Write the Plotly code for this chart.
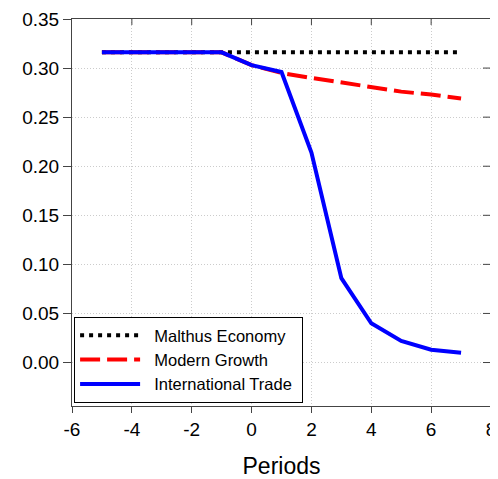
import plotly.graph_objects as go

periods = [-5, -4, -3, -2, -1, 0, 1, 2, 3, 4, 5, 6, 7]
malthus = [0.316] * 13
modern = [0.316, 0.316, 0.316, 0.316, 0.316, 0.303, 0.295, 0.290, 0.285, 0.280, 0.276, 0.273, 0.269]
trade = [0.316, 0.316, 0.316, 0.316, 0.316, 0.303, 0.296, 0.214, 0.086, 0.040, 0.022, 0.013, 0.010]

x_ticks = [-6, -4, -2, 0, 2, 4, 6, 8]
y_ticks = [0.00, 0.05, 0.10, 0.15, 0.20, 0.25, 0.30, 0.35]

FONT = "Liberation Sans, Arial, sans-serif"
NB = "\u00a0\u00a0"

fig = go.Figure()
fig.add_trace(go.Scatter(x=periods, y=malthus, mode="lines", name=NB + "Malthus Economy",
                         line=dict(color="black", width=4, dash="4px,5px")))
fig.add_trace(go.Scatter(x=periods, y=modern, mode="lines", name=NB + "Modern Growth",
                         line=dict(color="red", width=4, dash="20px,7px")))
fig.add_trace(go.Scatter(x=periods, y=trade, mode="lines", name=NB + "International Trade\u00a0",
                         line=dict(color="blue", width=4)))

xr = [-6, 8]
yr = [-0.0443, 0.35]
GRID = "#cccccc"
AX = "#444444"

W, H = 490, 471
M = dict(l=64, r=7, t=11, b=73)
plot_w = W - M["l"] - M["r"]
plot_h = H - M["t"] - M["b"]

# inward ticks on the top and right frame
shapes = []
for v in x_ticks[1:-1]:
    shapes.append(dict(type="line", xref="x", yref="paper", x0=v, x1=v,
                       y0=1, y1=1 - 6 / plot_h, line=dict(color=AX, width=1)))
for v in y_ticks[:-1]:
    shapes.append(dict(type="line", xref="paper", yref="y", y0=v, y1=v,
                       x0=1, x1=1 - 8 / plot_w, line=dict(color=AX, width=1)))

# the page body has an 8px margin, so the figure is offset by 8px
fig.update_layout(
    width=W, height=H,
    margin=M,
    paper_bgcolor="white", plot_bgcolor="white",
    font=dict(family=FONT, color="black"),
    showlegend=True,
    shapes=shapes,
    legend=dict(x=0.005, y=0.008, xanchor="left", yanchor="bottom",
                bgcolor="white", bordercolor="black", borderwidth=1,
                font=dict(size=16.5, family=FONT, color="black"),
                itemwidth=60, tracegroupgap=0),
    xaxis=dict(range=xr, tickvals=x_ticks, ticktext=[str(v) for v in x_ticks],
               ticks="outside", ticklen=6, tickcolor=AX, tickfont=dict(size=19),
               showline=True, linecolor=AX, linewidth=1, mirror=True,
               showgrid=True, gridcolor=GRID, griddash="1px,2px", gridwidth=1,
               zeroline=False, automargin=False,
               title=dict(text="Periods", font=dict(size=23), standoff=19)),
    yaxis=dict(range=yr, tickvals=y_ticks, ticktext=[f"{v:.2f}" for v in y_ticks],
               ticks="outside", ticklen=8, tickcolor=AX, tickfont=dict(size=19),
               showline=True, linecolor=AX, linewidth=1, mirror=True,
               showgrid=True, gridcolor=GRID, griddash="1px,2px", gridwidth=1,
               zeroline=False, automargin=False),
)

fig.write_html("out.html")
